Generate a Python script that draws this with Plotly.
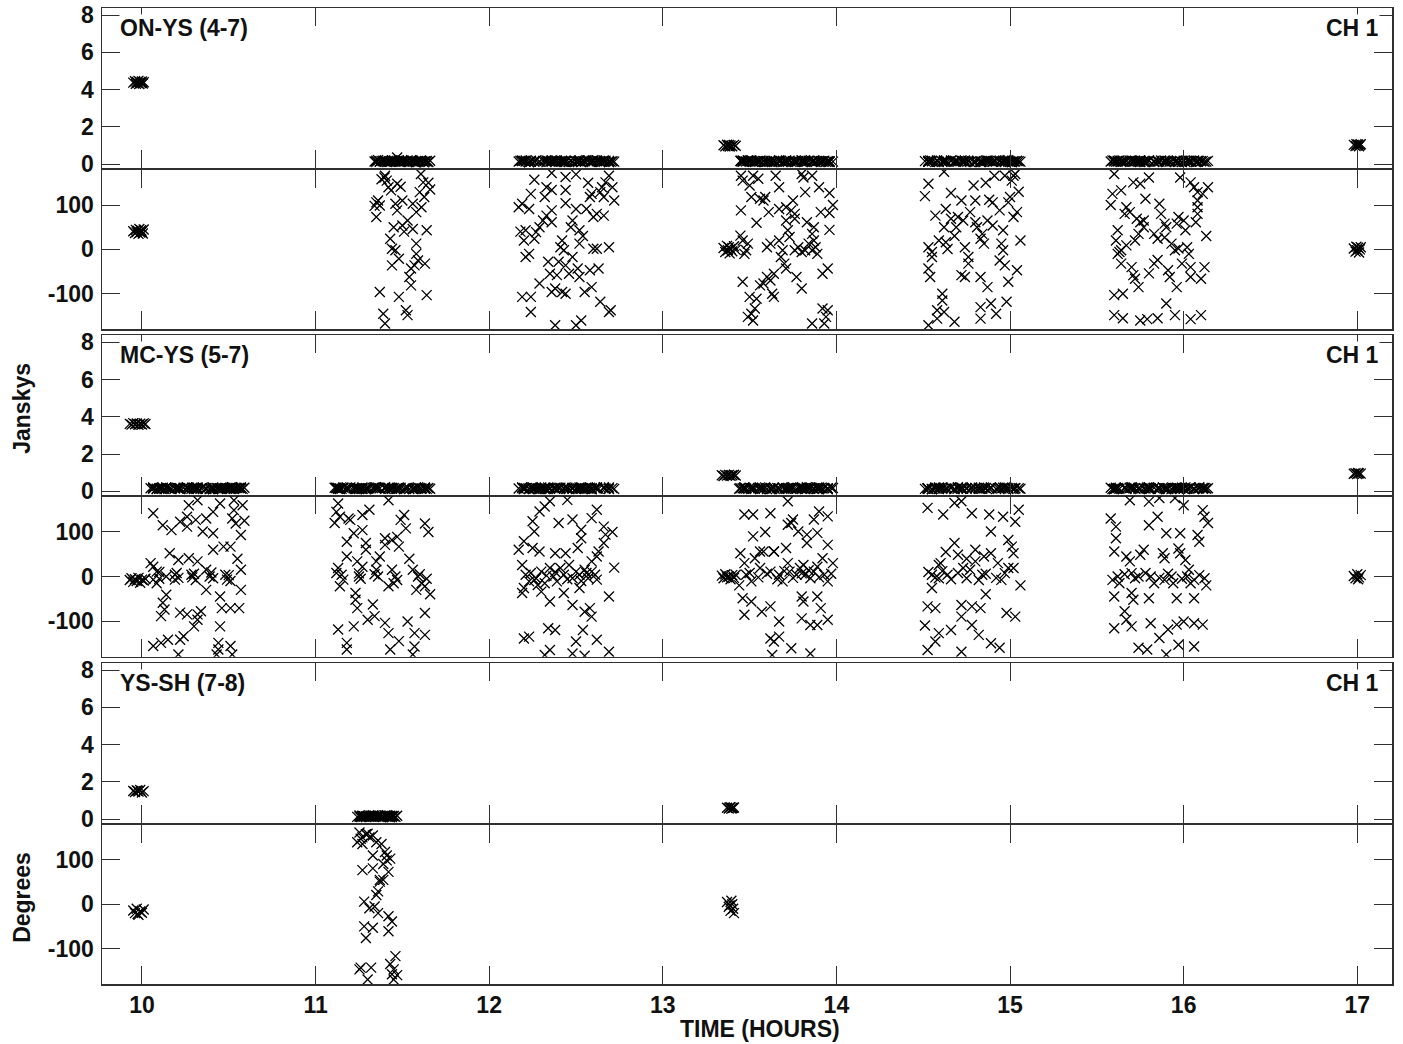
import plotly.graph_objects as go

# ---------------- axes / labels ----------------
X_RANGE = [9.77, 17.20]
X_TICKS = [10, 11, 12, 13, 14, 15, 16, 17]
X_TICKTEXT = ["10", "11", "12", "13", "14", "15", "16", "17"]
AMP_RANGE = [-0.2, 8.38]
AMP_TICKS = [0, 2, 4, 6, 8]
AMP_TICKTEXT = ["0", "2", "4", "6", "8"]
PH_RANGE = [-180, 180]
PH_TICKS = [-100, 0, 100]
PH_TICKTEXT = ["-100", "0", "100"]
BASELINES = ["ON-YS (4-7)", "MC-YS (5-7)", "YS-SH (7-8)"]
CHANNEL = "CH 1"
X_TITLE = "TIME (HOURS)"
AMP_TITLE = "Janskys"
PH_TITLE = "Degrees"

# ---------------- data: (time [h], amplitude [Jy], phase [deg]) ----------------
ONYS_C10 = [(9.95,4.38,41),(9.96,4.45,37),(9.965,4.32,44),(9.97,4.41,39),(9.975,4.36,42),(9.98,4.47,35),
            (9.985,4.30,46),(9.99,4.42,38),(9.995,4.35,43),(10.0,4.44,40),(10.005,4.33,36),(10.01,4.40,45)]
ONYS_S1 = [(11.397,0.16,162),(11.41,0.12,155),(11.40,0.21,166),(11.435,0.15,133),(11.47,0.18,148),(11.49,0.13,141),
           (11.607,0.2,170),(11.62,0.14,151),(11.60,0.17,129),(11.626,0.11,118),(11.35,0.19,106),(11.37,0.15,99),
           (11.36,0.22,110),(11.35,0.13,73),(11.46,0.17,103),(11.47,0.36,88),(11.50,0.14,110),(11.56,0.19,103),
           (11.58,0.12,84),(11.45,0.16,50),(11.50,0.21,54),(11.56,0.15,46),(11.64,0.18,43),(11.43,0.13,24),
           (11.44,0.2,1.5),(11.46,0.14,-2),(11.58,0.17,13),(11.58,0.11,-10),(11.44,0.19,-36),(11.48,0.15,-21),
           (11.55,0.22,-43),(11.57,0.13,-36),(11.63,0.16,-32),(11.54,0.12,-62),(11.55,0.18,-81),(11.37,0.14,-96),
           (11.48,0.2,-107),(11.64,0.15,-103),(11.52,0.17,-137),(11.53,0.13,-148),(11.39,0.19,-145),(11.40,0.16,-167),
           (11.34,0.15,98),(11.38,0.18,158),(11.42,0.13,140),(11.51,0.16,40),(11.53,0.2,65),(11.59,0.14,-25),
           (11.61,0.17,95),(11.65,0.12,150),(11.66,0.19,135)]
ONYS_S2 = [(12.26,0.15,157),(12.36,0.19,172),(12.44,0.12,163),(12.50,0.17,169),(12.33,0.21,140),(12.36,0.14,134),
           (12.32,0.18,118),(12.44,0.13,134),(12.24,0.16,125),(12.19,0.2,103),(12.23,0.11,91),(12.44,0.17,104),
           (12.50,0.15,91),(12.56,0.22,91),(12.58,0.13,118),(12.59,0.18,125),(12.65,0.14,140),(12.67,0.19,151),
           (12.69,0.12,166),(12.71,0.16,140),(12.66,0.2,118),(12.64,0.15,129),(12.60,0.17,73),(12.66,0.13,76),
           (12.62,0.21,80),(12.36,0.16,88),(12.33,0.12,76),(12.31,0.18,65),(12.29,0.14,50),(12.27,0.2,39),
           (12.26,0.15,24),(12.36,0.17,61),(12.48,0.13,65),(12.47,0.19,50),(12.52,0.16,43),(12.21,0.14,43),
           (12.20,0.18,20),(12.23,0.12,-10),(12.21,0.2,-17),(12.42,0.15,20),(12.41,0.17,5),(12.43,0.13,-2),
           (12.52,0.19,13),(12.48,0.14,-17),(12.60,0.22,1.5),(12.62,0.16,1.5),(12.69,0.12,5),(12.34,0.18,-28),
           (12.40,0.15,-28),(12.44,0.2,-36),(12.58,0.13,-47),(12.63,0.17,-43),(12.35,0.14,-55),(12.39,0.19,-58),
           (12.46,0.12,-55),(12.51,0.16,-43),(12.52,0.21,-62),(12.29,0.15,-77),(12.38,0.13,-88),(12.42,0.18,-96),
           (12.44,0.14,-100),(12.36,0.2,-96),(12.55,0.16,-96),(12.59,0.12,-85),(12.19,0.17,-107),(12.24,0.15,-107),
           (12.24,0.19,-141),(12.64,0.13,-118),(12.69,0.18,-141),(12.70,0.14,-137),(12.38,0.2,-171),(12.50,0.16,-171),
           (12.53,0.12,-160),(12.17,0.15,95),(12.18,0.19,40),(12.72,0.14,110),(12.54,0.17,30),(12.57,0.21,150)]
ONYS_C13 = [(13.35,1.02,3),(13.36,0.96,-6),(13.37,1.05,8),(13.375,0.98,-2),(13.38,1.03,5),(13.385,0.95,-9),
            (13.39,1.01,1),(13.40,0.97,-4),(13.41,1.04,7),(13.42,0.99,-1)]
ONYS_S3 = [(13.45,0.16,166),(13.46,0.2,155),(13.52,0.13,166),(13.55,0.18,159),(13.65,0.15,166),(13.80,0.21,170),
           (13.86,0.12,166),(13.81,0.17,162),(13.50,0.14,144),(13.67,0.19,140),(13.96,0.15,127),(13.82,0.13,129),
           (13.51,0.2,118),(13.56,0.16,114),(13.59,0.12,118),(13.58,0.18,110),(13.61,0.14,84),(13.67,0.21,91),
           (13.71,0.15,95),(13.75,0.17,110),(13.74,0.13,88),(13.45,0.19,88),(13.71,0.16,65),(13.76,0.12,80),
           (13.76,0.18,69),(13.83,0.14,61),(13.87,0.2,50),(13.91,0.15,84),(13.96,0.17,82),(13.72,0.13,43),
           (13.73,0.19,28),(13.86,0.16,35),(13.96,0.12,44),(13.447,0.18,31),(13.46,0.14,20),(13.49,0.2,13),
           (13.48,0.15,-2),(13.47,0.17,-10),(13.60,0.13,5),(13.62,0.19,13),(13.67,0.16,20),(13.69,0.12,-2),
           (13.68,0.18,-17),(13.70,0.14,-32),(13.71,0.21,-43),(13.76,0.15,-2),(13.78,0.17,5),(13.80,0.13,-6),
           (13.84,0.19,13),(13.87,0.16,20),(13.88,0.12,5),(13.89,0.18,-10),(13.86,0.14,-2),(13.82,0.2,-2),
           (13.60,0.15,-62),(13.64,0.17,-55),(13.62,0.13,-70),(13.56,0.19,-81),(13.58,0.16,-77),(13.63,0.12,-100),
           (13.64,0.18,-107),(13.77,0.14,-62),(13.80,0.2,-88),(13.46,0.15,-73),(13.92,0.17,-55),(13.95,0.13,-43),
           (13.50,0.19,-107),(13.54,0.16,-111),(13.53,0.12,-133),(13.51,0.18,-145),(13.52,0.14,-160),(13.49,0.2,-152),
           (13.92,0.15,-133),(13.95,0.17,-137),(13.94,0.13,-152),(13.93,0.19,-167),(13.86,0.16,-167),(13.98,0.14,100),
           (13.90,0.18,140),(13.54,0.15,60)]
ONYS_S4 = [(14.53,0.15,148),(14.62,0.19,175),(14.79,0.12,144),(14.66,0.17,127),(14.72,0.21,110),(14.80,0.14,110),
           (14.88,0.18,112),(14.90,0.13,106),(14.91,0.16,166),(14.97,0.2,166),(15.01,0.11,155),(15.02,0.17,166),
           (15.03,0.15,170),(14.99,0.22,106),(15.00,0.13,118),(15.04,0.18,84),(15.02,0.14,73),(14.94,0.19,88),
           (14.57,0.12,76),(14.63,0.16,91),(14.66,0.2,69),(14.70,0.15,73),(14.73,0.17,65),(14.77,0.13,84),
           (14.62,0.21,50),(14.69,0.16,50),(14.80,0.12,61),(14.81,0.18,50),(14.84,0.14,35),(14.87,0.2,65),
           (14.90,0.15,54),(14.96,0.17,43),(14.53,0.13,5),(14.55,0.19,-6),(14.55,0.16,-17),(14.59,0.12,20),
           (14.63,0.18,16),(14.64,0.14,1),(14.74,0.2,5),(14.83,0.15,24),(14.85,0.17,13),(14.95,0.13,13),
           (14.96,0.19,-2),(14.94,0.16,-25),(14.97,0.12,-36),(15.04,0.18,-47),(14.53,0.14,-43),(14.54,0.2,-62),
           (14.61,0.15,-100),(14.72,0.17,-58),(14.74,0.13,-62),(14.76,0.19,-17),(14.76,0.16,-32),(14.83,0.12,-62),
           (14.87,0.18,-85),(14.99,0.14,-73),(14.58,0.2,-137),(14.62,0.15,-141),(14.58,0.17,-156),(14.61,0.13,-115),
           (14.53,0.19,-171),(14.68,0.16,-163),(14.83,0.12,-130),(14.89,0.18,-122),(14.92,0.14,-145),(14.98,0.2,-118),
           (14.83,0.15,-156),(14.51,0.17,120),(14.68,0.13,30),(14.86,0.19,150),(15.05,0.16,130),(15.06,0.14,20)]
ONYS_S5 = [(15.60,0.16,170),(15.59,0.2,125),(15.64,0.13,133),(15.71,0.18,151),(15.75,0.15,148),(15.80,0.21,162),
           (15.78,0.12,114),(15.67,0.17,95),(15.66,0.14,80),(15.69,0.19,84),(15.73,0.16,69),(15.75,0.12,61),
           (15.77,0.18,65),(15.86,0.14,103),(15.87,0.2,80),(15.89,0.15,58),(15.90,0.17,50),(15.97,0.13,73),
           (16.00,0.19,65),(15.96,0.16,58),(16.01,0.12,43),(15.98,0.18,162),(16.04,0.14,151),(16.06,0.2,140),
           (16.08,0.15,129),(16.11,0.17,125),(16.08,0.13,110),(16.08,0.19,95),(16.08,0.16,80),(16.07,0.12,61),
           (15.62,0.18,43),(15.61,0.14,20),(15.63,0.2,-6),(15.62,0.15,-10),(15.67,0.17,9),(15.64,0.13,-2),
           (15.72,0.19,20),(15.74,0.16,35),(15.77,0.12,50),(15.83,0.18,35),(15.85,0.14,24),(15.89,0.2,27),
           (15.93,0.15,13),(15.95,0.17,-2),(15.97,0.13,2),(16.02,0.19,5),(16.03,0.16,-10),(15.99,0.12,-32),
           (16.04,0.18,-40),(15.64,0.14,-32),(15.70,0.2,-40),(15.71,0.15,-58),(15.72,0.17,-66),(15.74,0.13,-85),
           (15.80,0.19,-54),(15.85,0.16,-24),(15.83,0.12,-32),(15.91,0.18,-47),(15.92,0.14,-62),(15.96,0.2,-85),
           (16.04,0.15,-62),(16.10,0.17,-66),(16.12,0.13,-40),(15.60,0.19,-103),(15.65,0.16,-100),(15.90,0.12,-122),
           (15.60,0.18,-148),(15.65,0.14,-155),(15.75,0.2,-160),(15.79,0.15,-157),(15.85,0.17,-155),(15.95,0.13,-148),
           (16.04,0.19,-157),(16.10,0.16,-148),(16.13,0.14,30),(16.14,0.18,140),(15.58,0.15,100)]
ONYS_C17 = [(16.98,1.04,2),(16.99,0.98,-5),(16.995,1.08,6),(17.0,1.01,-2),(17.005,1.06,4),(17.01,0.97,-7),
            (17.015,1.03,0),(17.02,1.07,5)]

MCYS_C10 = [(9.93,3.62,-8),(9.94,3.58,-4),(9.95,3.66,-12),(9.96,3.60,-6),(9.97,3.64,-10),(9.98,3.57,-3),
            (9.99,3.63,-14),(10.0,3.59,-7),(10.01,3.65,-9),(10.02,3.61,-5)]
MCYS_S1 = [(10.065,0.15,142),(10.12,0.19,115),(10.17,0.12,104),(10.22,0.17,123),(10.26,0.21,134),(10.27,0.14,160),
           (10.32,0.18,171),(10.31,0.13,127),(10.26,0.16,112),(10.35,0.2,101),(10.41,0.11,97),(10.41,0.17,145),
           (10.45,0.15,164),(10.52,0.22,130),(10.53,0.13,171),(10.54,0.18,119),(10.53,0.14,149),(10.57,0.19,93),
           (10.41,0.12,60),(10.47,0.16,67),(10.51,0.2,67),(10.16,0.15,52),(10.21,0.17,37),(10.27,0.13,41),
           (10.32,0.21,34),(10.065,0.16,22),(10.085,0.12,11),(10.065,0.18,-7),(10.085,0.14,-15),(10.14,0.2,0),
           (10.19,0.15,4),(10.19,0.17,-7),(10.285,0.13,4),(10.29,0.19,-2),(10.37,0.16,15),(10.39,0.12,0),
           (10.48,0.18,4),(10.49,0.14,-7),(10.57,0.2,15),(10.57,0.15,-30),(10.45,0.17,-45),(10.37,0.13,-30),
           (10.14,0.19,-41),(10.12,0.16,-59),(10.13,0.12,-74),(10.11,0.18,-89),(10.22,0.14,-81),(10.26,0.2,-85),
           (10.32,0.15,-85),(10.34,0.17,-78),(10.32,0.13,-97),(10.30,0.19,-112),(10.46,0.16,-71),(10.51,0.12,-71),
           (10.56,0.18,-71),(10.45,0.14,-112),(10.065,0.2,-156),(10.11,0.15,-149),(10.15,0.17,-142),(10.22,0.13,-142),
           (10.24,0.19,-134),(10.44,0.16,-149),(10.44,0.12,-164),(10.43,0.18,-175),(10.51,0.14,-156),(10.52,0.2,-175),
           (10.21,0.15,-175),(10.10,0.17,10),(10.10,0.13,-5),(10.20,0.19,8),(10.21,0.16,-3),(10.30,0.12,6),
           (10.31,0.18,-8),(10.40,0.14,9),(10.41,0.2,-4),(10.50,0.15,3),(10.51,0.17,-10),(10.58,0.13,160),
           (10.59,0.19,125),(10.05,0.16,30),(10.37,0.14,130),(10.55,0.18,40)]
MCYS_S2 = [(11.13,0.15,164),(11.12,0.19,145),(11.14,0.12,134),(11.19,0.17,130),(11.20,0.21,127),(11.27,0.14,138),
           (11.42,0.18,171),(11.18,0.13,78),(11.22,0.16,97),(11.27,0.2,104),(11.29,0.11,75),(11.29,0.17,60),
           (11.40,0.15,86),(11.40,0.22,71),(11.44,0.13,82),(11.48,0.18,67),(11.47,0.14,89),(11.49,0.19,127),
           (11.51,0.12,138),(11.52,0.16,108),(11.63,0.2,119),(11.18,0.15,45),(11.24,0.17,34),(11.27,0.13,22),
           (11.35,0.21,34),(11.37,0.16,45),(11.25,0.12,7),(11.13,0.18,19),(11.15,0.14,4),(11.16,0.2,-7),
           (11.14,0.15,-22),(11.25,0.17,0),(11.35,0.13,15),(11.36,0.19,0),(11.44,0.16,15),(11.46,0.12,0),
           (11.45,0.18,-15),(11.56,0.14,15),(11.59,0.2,0),(11.61,0.15,-15),(11.58,0.17,-30),(11.63,0.13,-22),
           (11.42,0.19,-22),(11.23,0.16,-37),(11.23,0.12,-52),(11.33,0.18,-63),(11.24,0.14,-71),(11.34,0.2,-89),
           (11.30,0.15,-97),(11.40,0.17,-104),(11.42,0.13,-127),(11.53,0.19,-101),(11.63,0.16,-82),(11.57,0.12,-127),
           (11.63,0.18,-131),(11.13,0.14,-119),(11.18,0.2,-149),(11.18,0.15,-164),(11.22,0.17,-112),(11.43,0.13,-164),
           (11.48,0.19,-145),(11.57,0.16,-157),(11.56,0.12,-175),(11.12,0.18,8),(11.26,0.14,-5),(11.34,0.2,5),
           (11.47,0.15,-8),(11.60,0.17,5),(11.64,0.13,-5),(11.11,0.19,120),(11.31,0.16,150),(11.54,0.12,40),
           (11.65,0.18,100),(11.66,0.14,-40)]
MCYS_S3 = [(12.35,0.15,169),(12.45,0.19,172),(12.29,0.12,146),(12.32,0.17,157),(12.25,0.21,124),(12.26,0.14,101),
           (12.40,0.18,120),(12.48,0.13,128),(12.53,0.16,105),(12.62,0.2,150),(12.59,0.11,131),(12.66,0.17,112),
           (12.67,0.15,94),(12.66,0.22,75),(12.63,0.13,56),(12.62,0.18,45),(12.20,0.14,79),(12.25,0.19,64),
           (12.29,0.12,56),(12.38,0.16,52),(12.44,0.2,52),(12.51,0.15,64),(12.53,0.17,86),(12.59,0.13,34),
           (12.19,0.21,26),(12.21,0.16,4),(12.23,0.12,-11),(12.27,0.18,-4),(12.30,0.14,11),(12.32,0.2,-15),
           (12.35,0.15,19),(12.37,0.17,0),(12.39,0.13,-11),(12.41,0.19,19),(12.43,0.16,4),(12.46,0.12,26),
           (12.48,0.18,-4),(12.50,0.14,11),(12.52,0.2,4),(12.55,0.15,15),(12.57,0.17,-4),(12.59,0.13,11),
           (12.61,0.19,4),(12.62,0.16,-7),(12.20,0.12,-26),(12.19,0.18,-37),(12.28,0.14,-19),(12.30,0.2,-34),
           (12.35,0.15,-56),(12.43,0.17,-37),(12.52,0.13,-26),(12.24,0.19,8),(12.26,0.16,-8),(12.33,0.12,2),
           (12.38,0.18,10),(12.45,0.14,-6),(12.53,0.2,-10),(12.56,0.15,8),(12.48,0.17,-64),(12.55,0.13,-79),
           (12.58,0.19,-71),(12.59,0.16,-90),(12.69,0.12,-45),(12.20,0.18,-139),(12.23,0.14,-135),(12.34,0.2,-116),
           (12.38,0.15,-120),(12.54,0.17,-120),(12.50,0.13,-146),(12.62,0.19,-142),(12.35,0.16,-165),(12.32,0.12,-176),
           (12.48,0.18,-173),(12.55,0.14,-178),(12.69,0.2,-169),(12.17,0.15,60),(12.71,0.17,100),(12.72,0.13,20)]
MCYS_C13 = [(13.34,0.86,2),(13.35,0.82,-4),(13.36,0.88,5),(13.37,0.84,-2),(13.38,0.87,0),(13.39,0.83,-6),
            (13.40,0.86,3),(13.41,0.89,-3),(13.42,0.85,4)]
MCYS_S4 = [(13.47,0.15,139),(13.52,0.19,139),(13.62,0.12,142),(13.72,0.17,169),(13.75,0.21,128),(13.74,0.14,120),
           (13.78,0.18,101),(13.83,0.13,94),(13.87,0.16,128),(13.90,0.2,146),(13.95,0.11,135),(13.89,0.17,98),
           (13.95,0.15,71),(13.83,0.22,75),(13.52,0.13,90),(13.72,0.18,116),(13.71,0.14,64),(13.64,0.19,56),
           (13.56,0.12,56),(13.447,0.16,52),(13.47,0.2,30),(13.48,0.15,4),(13.51,0.17,-11),(13.53,0.13,41),
           (13.56,0.21,19),(13.58,0.16,56),(13.62,0.12,11),(13.64,0.18,56),(13.67,0.14,4),(13.69,0.2,-11),
           (13.72,0.15,30),(13.73,0.17,11),(13.77,0.13,4),(13.79,0.19,19),(13.81,0.16,26),(13.82,0.12,4),
           (13.85,0.18,-4),(13.87,0.14,11),(13.89,0.2,22),(13.92,0.15,41),(13.93,0.17,4),(13.95,0.13,-11),
           (13.50,0.19,8),(13.55,0.16,-2),(13.60,0.12,6),(13.66,0.18,-6),(13.70,0.14,12),(13.75,0.2,-3),
           (13.80,0.15,7),(13.84,0.17,14),(13.90,0.13,-2),(13.97,0.19,6),(13.46,0.16,-49),(13.51,0.12,-56),
           (13.57,0.18,-79),(13.62,0.14,-67),(13.47,0.2,-86),(13.67,0.15,-101),(13.64,0.17,-146),(13.67,0.13,-135),
           (13.80,0.19,-45),(13.81,0.16,-56),(13.89,0.12,-45),(13.91,0.18,-71),(13.80,0.14,-94),(13.85,0.2,-109),
           (13.89,0.15,-109),(13.95,0.17,-97),(13.62,0.13,-139),(13.74,0.19,-161),(13.85,0.16,-173),(13.63,0.12,-176),
           (13.98,0.18,30),(13.44,0.14,-20),(13.59,0.2,100)]
MCYS_S5 = [(14.525,0.15,154),(14.615,0.19,139),(14.68,0.12,165),(14.72,0.17,169),(14.78,0.21,142),(14.88,0.14,139),
           (14.89,0.18,101),(14.68,0.13,75),(14.80,0.16,60),(14.59,0.2,26),(14.55,0.11,4),(14.59,0.17,-4),
           (14.64,0.15,4),(14.70,0.22,49),(14.73,0.13,19),(14.80,0.18,34),(14.84,0.14,4),(14.89,0.19,52),
           (14.55,0.12,-26),(14.525,0.16,-67),(14.57,0.2,-71),(14.72,0.15,-64),(14.78,0.17,-67),(14.83,0.13,-71),
           (14.72,0.21,-90),(14.78,0.16,-109),(14.59,0.12,-127),(14.66,0.18,-120),(14.82,0.14,-131),(14.89,0.2,-150),
           (14.57,0.15,-146),(14.525,0.17,-165),(14.72,0.13,-169),(14.96,0.19,134),(15.03,0.16,123),(14.99,0.12,82),
           (15.01,0.18,67),(15.02,0.14,52),(14.97,0.2,7.5),(14.95,0.15,-7.5),(14.99,0.17,19),(15.02,0.13,19),
           (14.98,0.19,-82),(15.03,0.16,-90),(14.53,0.12,10),(14.57,0.18,-2),(14.61,0.14,12),(14.66,0.2,-6),
           (14.70,0.15,8),(14.75,0.17,-4),(14.77,0.13,15),(14.82,0.19,-8),(14.86,0.16,6),(14.92,0.12,-3),
           (14.60,0.18,30),(14.75,0.14,40),(14.85,0.2,45),(14.63,0.15,55),(14.93,0.17,30),(14.51,0.13,-110),
           (14.94,0.19,-160),(15.05,0.16,150),(15.06,0.14,-20),(14.86,0.18,-40)]
MCYS_S6 = [(15.61,0.15,112),(15.61,0.19,86),(15.60,0.12,56),(15.69,0.17,171),(15.80,0.21,168),(15.86,0.14,176),
           (15.95,0.18,176),(16.00,0.13,160),(15.85,0.16,134),(15.80,0.2,115),(15.90,0.11,97),(15.98,0.17,97),
           (16.08,0.15,93),(16.09,0.22,78),(16.11,0.13,149),(16.12,0.18,134),(15.67,0.14,45),(15.69,0.19,34),
           (15.75,0.12,49),(15.77,0.16,60),(15.88,0.2,52),(15.89,0.15,41),(15.97,0.17,63),(15.98,0.13,52),
           (16.01,0.21,37),(16.03,0.16,15),(15.59,0.12,-7.5),(15.62,0.18,0),(15.63,0.14,-15),(15.70,0.2,7.5),
           (15.72,0.15,-4),(15.74,0.17,0),(15.81,0.13,0),(15.83,0.19,-15),(15.89,0.16,-7.5),(15.93,0.12,0),
           (15.94,0.18,-15),(16.02,0.14,0),(16.04,0.2,-15),(16.06,0.15,-7.5),(16.12,0.17,-4),(15.60,0.13,-45),
           (15.70,0.19,-37),(15.71,0.16,-52),(15.80,0.12,-49),(15.96,0.18,-49),(16.06,0.14,-49),(15.66,0.2,5),
           (15.78,0.15,8),(15.86,0.17,-3),(15.91,0.13,6),(15.99,0.19,-5),(16.09,0.16,3),(15.60,0.12,-116),
           (15.66,0.18,-78),(15.67,0.14,-97),(15.70,0.2,-112),(15.81,0.15,-105),(15.86,0.17,-138),(15.91,0.13,-119),
           (15.96,0.19,-108),(16.00,0.16,-101),(16.06,0.12,-105),(16.11,0.18,-108),(15.74,0.14,-160),(15.79,0.2,-164),
           (15.90,0.15,-175),(15.97,0.17,-153),(16.06,0.13,-157),(15.58,0.19,130),(16.14,0.16,120),(16.13,0.14,-20)]
MCYS_C17 = [(16.98,0.94,1),(16.99,0.97,-4),(17.0,0.93,5),(17.01,0.96,-2),(17.02,0.95,3),(17.005,0.98,-6)]

YSSH_C10 = [(9.95,1.52,-14),(9.96,1.46,-20),(9.97,1.55,-10),(9.98,1.49,-24),(9.99,1.57,-16),(10.0,1.44,-19),
            (10.01,1.51,-12),(9.975,1.53,-22)]
YSSH_S1 = [(11.253,0.15,162),(11.27,0.19,151),(11.26,0.12,148),(11.30,0.17,159),(11.31,0.21,151),(11.33,0.14,155),
           (11.27,0.18,136),(11.38,0.13,136),(11.41,0.16,110),(11.40,0.2,118),(11.43,0.11,103),(11.33,0.17,110),
           (11.39,0.15,91),(11.41,0.22,99),(11.27,0.13,77),(11.33,0.18,81),(11.37,0.14,55),(11.37,0.19,51),
           (11.39,0.12,55),(11.42,0.16,73),(11.36,0.2,29),(11.35,0.15,21),(11.28,0.17,6),(11.31,0.13,-9),
           (11.34,0.21,-5),(11.36,0.16,-20),(11.42,0.12,-27),(11.44,0.18,-39),(11.28,0.14,-50),(11.33,0.2,-53),
           (11.29,0.15,-76),(11.42,0.17,-61),(11.46,0.13,-117),(11.43,0.19,-135),(11.45,0.16,-147),(11.44,0.12,-158),
           (11.45,0.18,-170),(11.26,0.14,-143),(11.253,0.2,-147),(11.32,0.15,-143),(11.30,0.17,-170),(11.24,0.13,140),
           (11.47,0.19,-160),(11.35,0.16,140),(11.29,0.12,158)]
YSSH_C13 = [(13.37,0.62,5),(13.38,0.58,-6),(13.39,0.65,-15),(13.40,0.60,0),(13.41,0.63,-20),(13.395,0.57,8),
            (13.405,0.61,-10),(13.385,0.64,-3)]

PAIRS = [
    ONYS_C10 + ONYS_S1 + ONYS_S2 + ONYS_C13 + ONYS_S3 + ONYS_S4 + ONYS_S5 + ONYS_C17,
    MCYS_C10 + MCYS_S1 + MCYS_S2 + MCYS_S3 + MCYS_C13 + MCYS_S4 + MCYS_S5 + MCYS_S6 + MCYS_C17,
    YSSH_C10 + YSSH_S1 + YSSH_C13,
]

# ---------------- layout geometry ----------------
W, H = 1403, 1044
M_L, M_R, M_T, M_B = 102, 11, 8, 60
PLOT_H = H - M_T - M_B
PLOT_W = W - M_L - M_R
PANEL_PX = [(0, 160), (161.5, 321.3), (327.3, 487), (488.3, 648.7), (655, 815), (816.5, 976)]
DOMAINS = [[1 - b / PLOT_H, 1 - a / PLOT_H] for a, b in PANEL_PX]

FONT = "Liberation Sans, Arial, Helvetica, sans-serif"
FS = 23
INK = "#111111"
FRAME = "#303030"

fig = go.Figure()
layout = dict(
    width=W, height=H,
    margin=dict(l=M_L, r=M_R, t=M_T, b=M_B, pad=0, autoexpand=False),
    paper_bgcolor="white", plot_bgcolor="white",
    showlegend=False,
    font=dict(family=FONT, size=FS, color=INK, weight="bold"),
)

for i in range(6):
    pair, is_amp = i // 2, (i % 2 == 0)
    rows = PAIRS[pair]
    xs = [r[0] for r in rows]
    ys = [r[1] if is_amp else r[2] for r in rows]
    xa = "x" if i == 0 else f"x{i+1}"
    ya = "y" if i == 0 else f"y{i+1}"
    fig.add_trace(go.Scatter(
        x=xs, y=ys, mode="markers", xaxis=xa, yaxis=ya, hoverinfo="skip",
        marker=dict(symbol="x-thin", size=10, color="black", line=dict(width=1.3, color="black")),
    ))
    xkey = "xaxis" if i == 0 else f"xaxis{i+1}"
    ykey = "yaxis" if i == 0 else f"yaxis{i+1}"
    layout[xkey] = dict(
        domain=[0, 1], anchor=ya, range=X_RANGE, tickvals=X_TICKS, ticktext=X_TICKTEXT,
        ticks="inside", ticklen=18, tickwidth=1, tickcolor=FRAME,
        showline=True, linecolor=FRAME, linewidth=1.5, mirror="ticks",
        showgrid=False, zeroline=False, showticklabels=(i == 5),
        tickfont=dict(family=FONT, size=FS, color=INK, weight="bold"),
        ticklabelstandoff=0,
    )
    layout[ykey] = dict(
        domain=DOMAINS[i], anchor=xa,
        range=AMP_RANGE if is_amp else PH_RANGE,
        tickvals=AMP_TICKS if is_amp else PH_TICKS,
        ticktext=AMP_TICKTEXT if is_amp else PH_TICKTEXT,
        ticks="inside", ticklen=18, tickwidth=1, tickcolor=FRAME,
        showline=True, linecolor=FRAME, linewidth=1.5, mirror="ticks",
        showgrid=False, zeroline=False,
        tickfont=dict(family=FONT, size=FS, color=INK, weight="bold"),
        ticklabelstandoff=2,
    )

fig.update_layout(**layout)

ann = []
for p, name in enumerate(BASELINES):
    ya = "y" if p == 0 else f"y{2*p+1}"
    xa = "x" if p == 0 else f"x{2*p+1}"
    ann.append(dict(text=name, xref=f"{xa} domain", yref=f"{ya} domain", x=0, y=1,
                    xanchor="left", yanchor="middle", xshift=17, yshift=-20, showarrow=False,
                    bgcolor="white", borderpad=0,
                    font=dict(family=FONT, size=FS, color=INK, weight="bold")))
    ann.append(dict(text=CHANNEL, xref=f"{xa} domain", yref=f"{ya} domain", x=1, y=1,
                    xanchor="right", yanchor="middle", xshift=-12, yshift=-20, showarrow=False,
                    bgcolor="white", borderpad=0,
                    font=dict(family=FONT, size=FS, color=INK, weight="bold")))

YT_X = -(M_L - 22) / PLOT_W
ann.append(dict(text=AMP_TITLE, xref="paper", yref="y3 domain", x=YT_X, y=0.54,
                xanchor="center", yanchor="middle", textangle=-90, showarrow=False,
                font=dict(family=FONT, size=FS, color=INK, weight="bold")))
ann.append(dict(text=PH_TITLE, xref="paper", yref="y6 domain", x=YT_X, y=0.54,
                xanchor="center", yanchor="middle", textangle=-90, showarrow=False,
                font=dict(family=FONT, size=FS, color=INK, weight="bold")))
ann.append(dict(text=X_TITLE, xref="paper", yref="paper", x=(760 - M_L) / PLOT_W,
                y=-(1029 - (H - M_B)) / PLOT_H, xanchor="center", yanchor="middle", showarrow=False,
                font=dict(family=FONT, size=FS, color=INK, weight="bold")))
fig.update_layout(annotations=ann)

# remove the page's default body margin so the figure fills the window exactly
fig.write_html("out.html",
               config={"displayModeBar": False, "staticPlot": True},
               post_script="document.body.style.margin='0px';document.body.style.overflow='hidden';")
